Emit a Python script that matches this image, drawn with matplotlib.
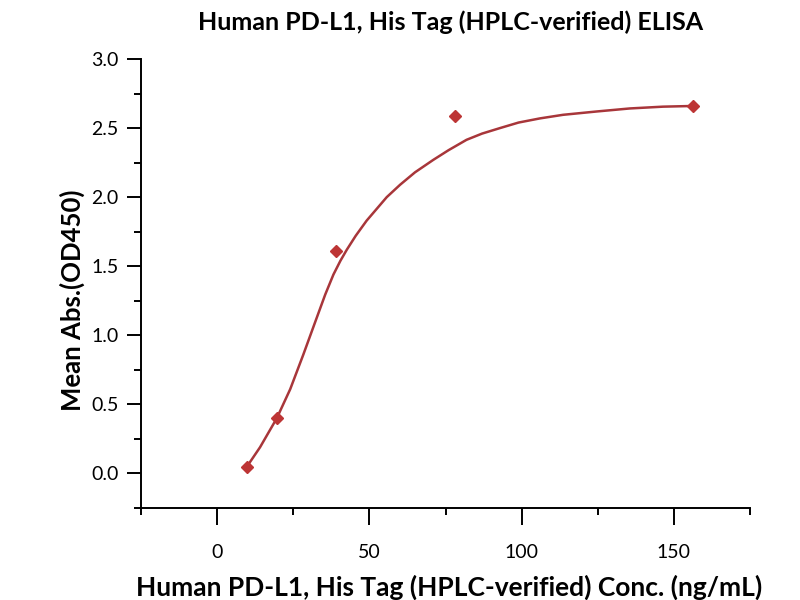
import matplotlib
matplotlib.use("Agg")
import matplotlib.pyplot as plt
import matplotlib.ticker as mticker

# measured points (conc in ng/mL, OD450)
conc = [9.77, 19.53, 39.06, 78.13, 156.25]
od450 = [0.05, 0.40, 1.61, 2.59, 2.66]

# fitted curve
curve_x = [9.8, 14.1, 19.6, 24.0, 28.3, 32.1, 35.5, 38.2, 40.5, 42.6, 45.5, 49.1,
           55.7, 60.1, 65.0, 71.0, 76.0, 81.9, 87.0, 92.9, 99.0, 106.0, 113.6,
           124.6, 135.5, 146.4, 156.25]
curve_y = [0.05, 0.19, 0.40, 0.61, 0.86, 1.09, 1.295, 1.44, 1.54, 1.62, 1.72, 1.83,
           2.00, 2.09, 2.18, 2.27, 2.34, 2.415, 2.46, 2.50, 2.54, 2.57, 2.596,
           2.62, 2.642, 2.655, 2.66]

TITLE = "Human PD-L1, His Tag (HPLC-verified) ELISA"
XLABEL = "Human PD-L1, His Tag (HPLC-verified) Conc. (ng/mL)"
YLABEL = "Mean Abs.(OD450)"

plt.rcParams["font.family"] = ["Lato", "DejaVu Sans"]

fig = plt.figure(figsize=(8, 6), dpi=100)
ax = fig.add_axes([141 / 800, 1 - 508 / 600, (750 - 141) / 800, (508 - 59) / 600])

ax.plot(curve_x, curve_y, color="#A8363A", linewidth=1.8, zorder=2,
        solid_joinstyle="round")
ax.plot(conc, od450, linestyle="none", marker="D", markersize=6,
        color="#BD3535", zorder=3)

ax.set_xlim(-25, 175)
ax.set_ylim(-0.25, 3.0)
ax.xaxis.set_major_locator(mticker.MultipleLocator(50))
ax.xaxis.set_minor_locator(mticker.MultipleLocator(25))
ax.yaxis.set_major_locator(mticker.MultipleLocator(0.5))
ax.yaxis.set_minor_locator(mticker.MultipleLocator(0.25))
ax.yaxis.set_major_formatter(mticker.FormatStrFormatter("%.1f"))

for side in ["top", "right"]:
    ax.spines[side].set_visible(False)
for side in ["left", "bottom"]:
    ax.spines[side].set_linewidth(1.4)

ax.tick_params(which="major", direction="out", length=10, width=1.4,
               labelsize=14, pad=6)
ax.tick_params(which="minor", direction="out", length=5, width=1.4)
ax.tick_params(axis="x", which="major", length=12, pad=14)

fig.text(451 / 800, 1 - 30 / 600, TITLE, ha="center", va="baseline",
         fontsize=18, fontweight="bold")
fig.text(449 / 800, 1 - 596 / 600, XLABEL, ha="center", va="baseline",
         fontsize=19, fontweight="bold")
fig.text(72 / 800, 1 - 300 / 600, YLABEL, ha="center", va="center",
         rotation=90, fontsize=18.5, fontweight="bold")

fig.savefig("out.png", dpi=100)
plt.close(fig)
